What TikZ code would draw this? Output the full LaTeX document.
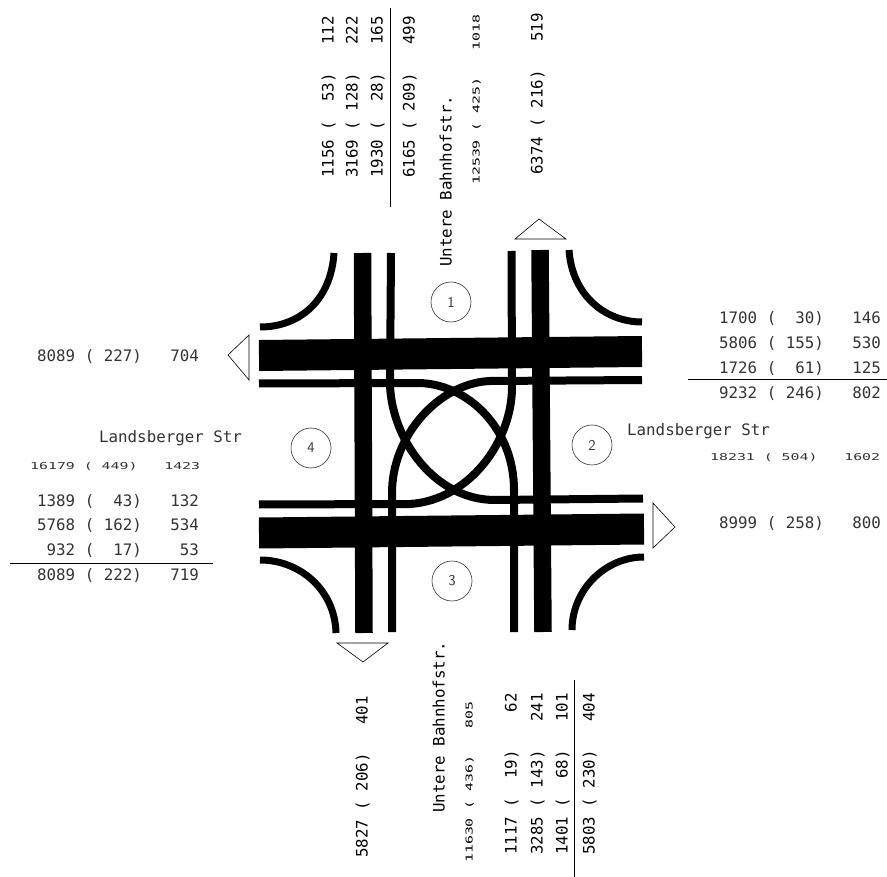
\documentclass[tikz,border=0pt]{standalone}
\usepackage{fontspec}
\setmonofont{DejaVu Sans Mono}
\usepackage{tikz}
\newcommand{\flatrow}[1]{\scalebox{.94}[.6]{#1}}
\tikzset{
    numrow/.style={anchor=west, inner sep=0pt, text height=11pt, text depth=0pt, black!80, font=\ttfamily\fontsize{15.8}{16}\selectfont},
    uprow/.style={numrow, black, rotate=90},
    bar/.style={line width=17.5pt},
    road/.style={line width=31pt},
    corner/.style={line width=7pt},
    turn/.style={line width=8pt},
    sumline/.style={line width=0.8pt},
    arm/.style={draw, line width=0.6pt, fill=white},
    zone/.style={draw, circle, line width=0.6pt, minimum size=40pt, inner sep=0pt, black!80, font=\sffamily\fontsize{15}{16}\selectfont}
}
\begin{document}
\begin{tikzpicture}[x=1pt, y=-1pt]
    \useasboundingbox (0,0) rectangle (887,877);

    % roads
    \draw[road] (259,355.5) -- (642,351.5);
    \draw[road] (259,533) -- (644,529);
    \draw[bar] (362.5,253) -- (364,633);
    \draw[bar] (540,250) -- (543,632);

    % lanes with the turning curves
    \draw[turn] (259,383.5) -- (420,383) .. controls (470,385) and (514,430) .. (514,490) -- (514,632);
    \draw[turn] (642,380) -- (490,381) .. controls (440,383) and (391,435) .. (392,495) -- (392,632);
    \draw[turn] (391,253) -- (390,385) .. controls (392,440) and (435,500) .. (495,500) -- (643,498.5);
    \draw[turn] (259,504.5) -- (410,504) .. controls (470,500) and (513,440) .. (512,385) -- (511.5,251);

    % corners
    \draw[corner] (334,253) .. controls (331,300) and (300,327) .. (260,327);
    \draw[corner] (569,250) .. controls (572,295) and (605,322) .. (642,322);
    \draw[corner] (260,560) .. controls (300,560) and (335,590) .. (336,633);
    \draw[corner] (572,630) .. controls (572,590) and (605,557) .. (644,557);

    % direction marks
    \draw[arm] (515,239) -- (539,219) -- (566,239) -- cycle;
    \draw[arm] (249,335) -- (228,355) -- (249,380) -- cycle;
    \draw[arm] (653,503) -- (675,527) -- (653,548) -- cycle;
    \draw[arm] (337,643) -- (363,662) -- (388,643) -- cycle;

    \node[zone] (zone1) at (451,302) {1};
    \node[zone] (zone2) at (592,445) {2};
    \node[zone] (zone3) at (452,581) {3};
    \node[zone] (zone4) at (311,448) {4};

    % north
    \node[uprow] (north1) at (328,178) {1156~(~~53)~~~112};
    \node[uprow] (north2) at (352,178) {3169~(~128)~~~222};
    \node[uprow] (north3) at (377,178) {1930~(~~28)~~~165};
    \node[uprow] (north4) at (409,178) {6165~(~209)~~~499};
    \node[uprow] (northname) at (446,267) {Untere~Bahnhofstr.};
    \node[uprow] (northsum) at (474,185) {\flatrow{12539~(~425)~~~1018}};
    \node[uprow] (northout) at (537,175) {6374~(~216)~~~519};
    \draw[sumline] (390,8) -- (390,207);

    % south
    \node[uprow] (southout) at (362,858) {5827~(~206)~~~401};
    \node[uprow] (southname) at (439,813) {Untere~Bahnhofstr.};
    \node[uprow] (southsum) at (467,863) {\flatrow{11630~(~436)~~~805}};
    \node[uprow] (south1) at (511,855) {1117~(~~19)~~~~62};
    \node[uprow] (south2) at (537,855) {3285~(~143)~~~241};
    \node[uprow] (south3) at (562,855) {1401~(~~68)~~~101};
    \node[uprow] (south4) at (589,855) {5803~(~230)~~~404};
    \draw[sumline] (574,680) -- (574,877);

    % west
    \node[numrow] (westout) at (37,356) {8089~(~227)~~~704};
    \node[numrow] (westname) at (99,437) {Landsberger~Str};
    \node[numrow] (westsum) at (30,464) {\flatrow{16179~(~449)~~~1423}};
    \node[numrow] (west1) at (37,501) {1389~(~~43)~~~132};
    \node[numrow] (west2) at (37,525) {5768~(~162)~~~534};
    \node[numrow] (west3) at (37,550) {~932~(~~17)~~~~53};
    \node[numrow] (west4) at (37,575) {8089~(~222)~~~719};
    \draw[sumline] (10,563) -- (213,563);

    % east
    \node[numrow] (east1) at (719,318) {1700~(~~30)~~~146};
    \node[numrow] (east2) at (719,343) {5806~(~155)~~~530};
    \node[numrow] (east3) at (719,368) {1726~(~~61)~~~125};
    \node[numrow] (east4) at (719,393) {9232~(~246)~~~802};
    \node[numrow] (eastname) at (627,430) {Landsberger~Str};
    \node[numrow] (eastsum) at (710,455) {\flatrow{18231~(~504)~~~1602}};
    \node[numrow] (eastout) at (719,523) {8999~(~258)~~~800};
    \draw[sumline] (688,379) -- (887,379);
\end{tikzpicture}
\end{document}
